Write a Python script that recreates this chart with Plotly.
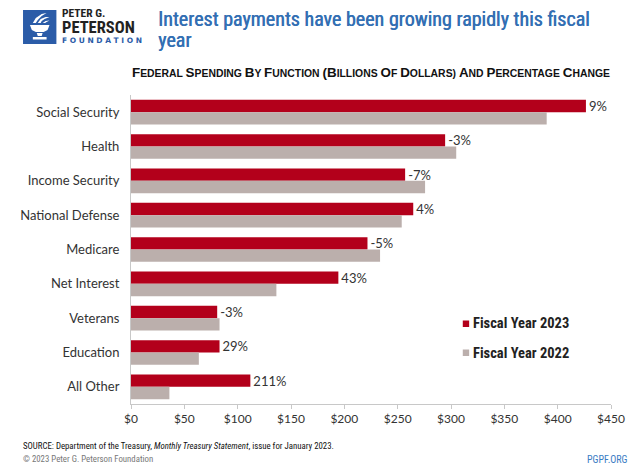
import plotly.graph_objects as go

categories = ["Social Security", "Health", "Income Security", "National Defense",
              "Medicare", "Net Interest", "Veterans", "Education", "All Other"]
fy2023 = [426.5, 294.5, 257.0, 264.6, 221.7, 194.4, 80.8, 83.0, 111.9]
fy2022 = [389.7, 304.9, 275.7, 253.8, 233.5, 136.3, 83.0, 63.6, 36.0]
pct_change = ["9%", "-3%", "-7%", "4%", "-5%", "43%", "-3%", "29%", "211%"]
tick_vals = [0, 50, 100, 150, 200, 250, 300, 350, 400, 450]
tick_text = ["$0", "$50", "$100", "$150", "$200", "$250", "$300", "$350", "$400", "$450"]

RED = "#b3001b"
GRAY = "#bbafac"
BLUE = "#336fb3"
NARROW = "Liberation Sans Narrow, Roboto Condensed, DejaVu Sans Condensed, Arial Narrow, sans-serif"
WIDE = "Liberation Sans, Arial, sans-serif"
BODY = "Lato, Open Sans, sans-serif"

W, H = 640, 466
OFF = 8  # the page body margin shifts the figure by 8px
# plot-area edges, in reference-picture pixels
RL, RR, RT, RB = 122, 611, 95, 404
L, R, T, B = RL - OFF, RR - OFF, RT - OFF, RB - OFF


def X(px):
    return (px - OFF - L) / (R - L)


def Y(py):
    return (B - (py - OFF)) / (B - T)


fig = go.Figure()
fig.add_trace(go.Bar(
    y=categories, x=fy2023, orientation="h", name="Fiscal Year 2023",
    marker=dict(color=RED, line=dict(width=0)),
    text=pct_change, textposition="outside", cliponaxis=False,
    constraintext="none",
    textfont=dict(family=BODY, size=13, color="#333333"),
    hoverinfo="x+y",
))
fig.add_trace(go.Bar(
    y=categories, x=fy2022, orientation="h", name="Fiscal Year 2022",
    marker=dict(color=GRAY, line=dict(width=0)),
    hoverinfo="x+y",
))

fig.update_layout(
    width=W, height=H,
    margin=dict(l=L, r=W - R, t=T, b=H - B),
    paper_bgcolor="white", plot_bgcolor="white",
    barmode="group", bargap=0.28, bargroupgap=0,
    showlegend=False,
    font=dict(family=BODY, color="#333333"),
)
fig.update_xaxes(
    range=[0, 450], tickvals=tick_vals, ticktext=tick_text,
    showgrid=False, zeroline=False,
    showline=True, linecolor="#c8c8c8", linewidth=1,
    ticks="outside", ticklen=4, tickcolor="#c8c8c8",
    tickfont=dict(family=BODY, size=12, color="#333333"),
)
fig.update_yaxes(
    autorange="reversed", showgrid=False, zeroline=False,
    showline=True, linecolor="#c8c8c8", linewidth=1,
    ticks="", ticklabelstandoff=8,
    tickfont=dict(family=BODY, size=13, color="#333333"),
)

shapes = []
# logo square
shapes.append(dict(type="rect", xref="paper", yref="paper",
                   x0=X(12), x1=X(46), y0=Y(44), y1=Y(10),
                   fillcolor="#2b5ca8", line=dict(width=0), layer="above"))


def path(points, close=True):
    s = "M " + " L ".join(f"{X(px):.5f},{Y(py):.5f}" for px, py in points)
    return s + (" Z" if close else "")


white = dict(fillcolor="white", line=dict(width=0))
# torch bowl
shapes.append(dict(type="path", xref="paper", yref="paper",
                   path=path([(19, 25), (39, 25), (37, 30), (33, 32), (25, 32), (21, 30)]), **white))
# stem
shapes.append(dict(type="path", xref="paper", yref="paper",
                   path=path([(26, 33), (32, 33), (31, 36), (27, 36)]), **white))
# base
shapes.append(dict(type="path", xref="paper", yref="paper",
                   path=path([(22, 37), (36, 37), (36, 39.5), (22, 39.5)]), **white))
# flames
for pts in [
    [(22, 23), (25, 18), (31, 14), (36, 13), (31, 16), (27, 20), (25, 23)],
    [(27, 23), (30, 19), (35, 17), (39, 17), (34, 19), (31, 21), (30, 23)],
    [(32, 23), (35, 21), (39, 20.5), (36, 22), (34.5, 23)],
]:
    shapes.append(dict(type="path", xref="paper", yref="paper", path=path(pts), **white))

# legend squares
shapes.append(dict(type="rect", xref="paper", yref="paper",
                   x0=X(460), x1=X(466.5), y0=Y(327), y1=Y(320.5),
                   fillcolor=RED, line=dict(width=0)))
shapes.append(dict(type="rect", xref="paper", yref="paper",
                   x0=X(460), x1=X(466.5), y0=Y(356), y1=Y(349.5),
                   fillcolor=GRAY, line=dict(width=0)))
fig.update_layout(shapes=shapes)


def ann(text, px, py, size, color="#222222", family=NARROW, xanchor="left",
        yanchor="middle", shadow=None):
    font = dict(family=family, size=size, color=color)
    if shadow:
        font["shadow"] = shadow
    fig.add_annotation(text=text, xref="paper", yref="paper", x=X(px), y=Y(py),
                       xanchor=xanchor, yanchor=yanchor, showarrow=False, borderpad=0,
                       font=font, align="left")


# logo text
ann("<b>PETER G.</b>", 51, 13.5, 11.5, color="#222222")
ann("<b>PETERSON</b>", 50.5, 27.5, 16.5, color="#222222")
ann("<b>F O U N D A T I O N</b>", 51, 40.5, 7.5, color="#2b5ca8", family="DejaVu Sans, sans-serif")

# title (slightly emboldened)
title_shadow = f"0.5px 0px 0px {BLUE}"
ann("Interest payments have been growing rapidly this fiscal", 148, 18.5, 20, color=BLUE,
    shadow=title_shadow)
ann("year", 148, 40, 20, color=BLUE, shadow=title_shadow)


# subtitle in small caps
def small_caps(s, big=13.4, small=10.4):
    out = []
    for word in s.split(" "):
        parts = []
        first = True
        for ch in word:
            if first and (ch.isalpha() or ch == "("):
                parts.append(f'<span style="font-size:{big}px">{ch}</span>')
                if ch.isalpha():
                    first = False
            else:
                parts.append(ch)
        out.append("".join(parts))
    return "<b>" + " ".join(out) + "</b>"


ann(small_caps("FEDERAL SPENDING BY FUNCTION (BILLIONS OF DOLLARS) AND PERCENTAGE CHANGE"),
    122, 72, 10.4, color="#111111", family=WIDE)

# legend text
ann("<b>Fiscal Year 2023</b>", 469, 323.5, 14.5, color="#222222")
ann("<b>Fiscal Year 2022</b>", 469, 353, 14.5, color="#222222")

# footer
ann("SOURCE: Department of the Treasury, <i>Monthly Treasury Statement</i>, issue for January 2023.",
    11, 446, 8.8, color="#111111")
ann("© 2023 Peter G. Peterson Foundation", 11, 459, 8.8, color="#777777")
ann("PGPF.ORG", 629, 459, 10, color="#3b7dc4", xanchor="right")

fig.write_html("out.html")
